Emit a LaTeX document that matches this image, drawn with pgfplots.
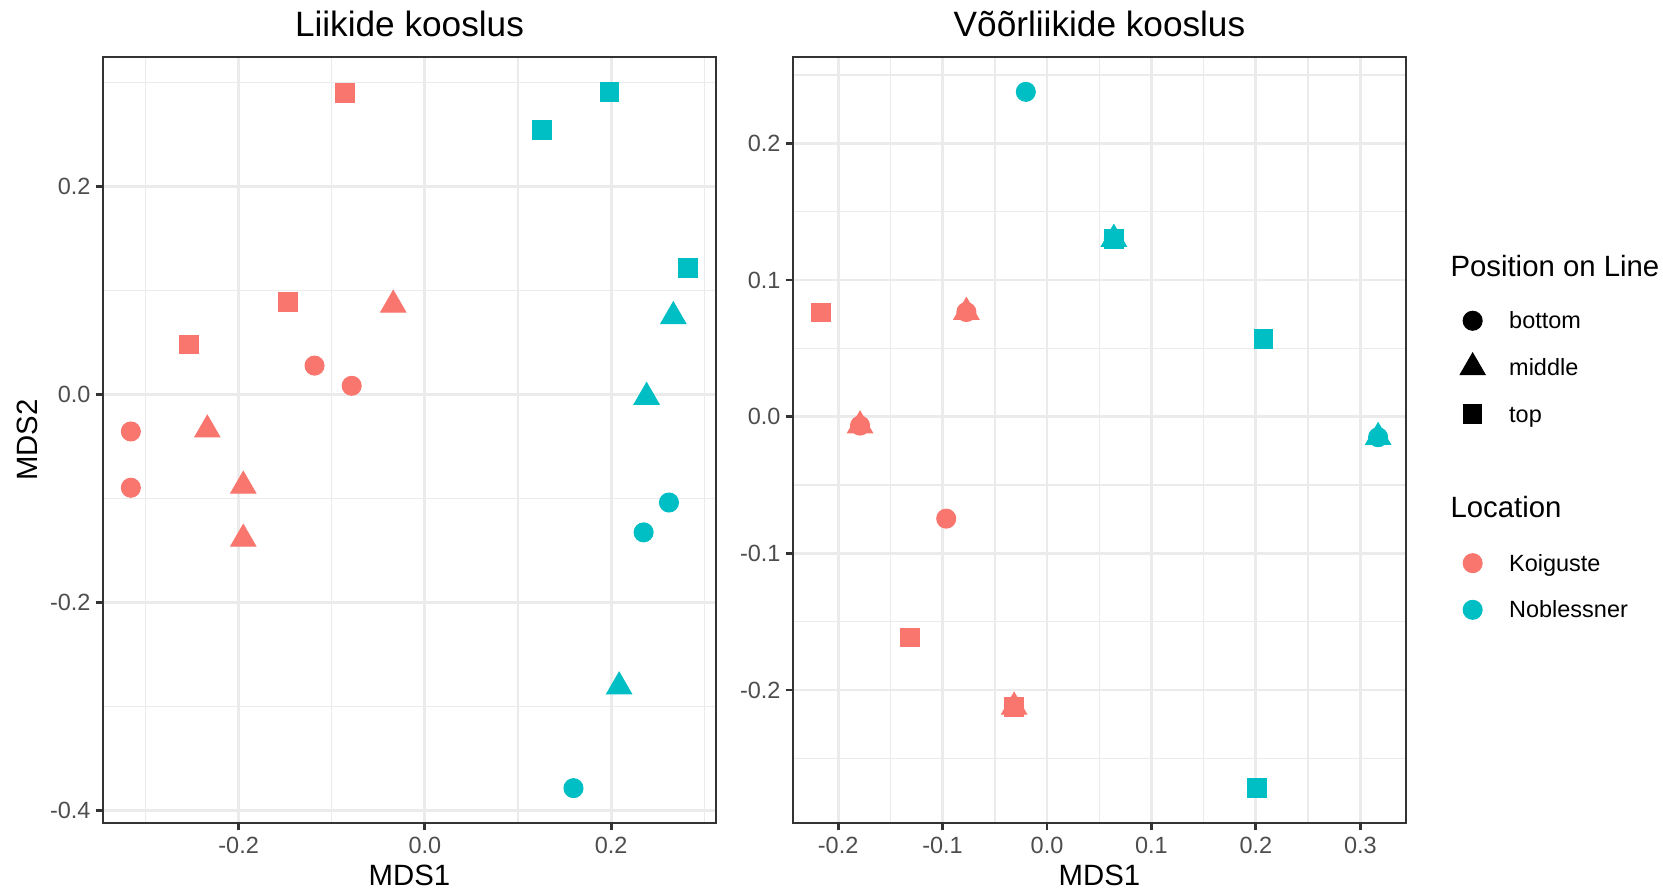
\documentclass[border=0pt]{standalone}
\usepackage{fontspec}
\setmainfont{Liberation Sans}
\usepackage{pgfplots}
\pgfplotsset{compat=1.18}
\definecolor{kred}{HTML}{F8766D}
\definecolor{ncyan}{HTML}{00BFC4}
\definecolor{grey20}{HTML}{333333}
\definecolor{grey30}{HTML}{4D4D4D}
\definecolor{grey92}{HTML}{EBEBEB}
\pgfplotsset{
  ggpanel/.style={
    scale only axis, width=229.875pt, height=287.25pt, anchor=south west,
    axis line style={draw=grey20, line width=1.07pt},
    grid=both,
    major grid style={draw=grey92, line width=1.07pt},
    minor grid style={draw=grey92, line width=0.53pt},
    tick align=outside, major tick length=2.75pt, minor tick length=0pt,
    major tick style={draw=grey20, line width=1.07pt},
    minor tick style={draw=none},
    xtick pos=bottom, ytick pos=left,
    ticklabel style={font=\fontsize{8.8}{10}\selectfont, text=grey30, inner sep=0pt},
    xticklabel style={anchor=north, yshift=-2.4pt},
    yticklabel style={anchor=east, xshift=-1.75pt},
  },
  pb/.style={only marks, mark=*, mark size=3.56pt, color=#1, mark options={draw=none}},
  pm/.style={only marks, mark=triangle*, mark size=5.4pt, color=#1, mark options={draw=none}},
  pt/.style={only marks, mark=square*, mark size=3.47pt, color=#1, mark options={draw=none}},
  legax/.style={at={(0pt,0pt)}, anchor=south west, hide axis, scale only axis,
    width=623.625pt, height=334.125pt, xmin=0, xmax=1, ymin=0, ymax=1,
    legend image code/.code={\begin{scope}[overlay]\draw[##1] plot coordinates {(7pt,0pt)};\end{scope}\path[draw=none, fill=none] (0pt,-6pt) rectangle (14pt,6pt);},
    legend style={anchor=north west, draw=none, fill=none, inner sep=0pt, outer sep=0pt,
      column sep=4.7pt, font=\fontsize{8.8}{10}\selectfont,
      cells={anchor=west, inner sep=0pt, text height=7.6pt, text depth=1pt}}},
}
\begin{document}
\begin{tikzpicture}
\useasboundingbox (0pt,0pt) rectangle (623.625pt,334.125pt);
% Left panel
\begin{axis}[ggpanel, at={(38.625pt,25.5pt)},
  xmin=-0.3456, xmax=0.3125, ymin=-0.4121, ymax=0.3243,
  xtick={-0.2,0,0.2}, xticklabels={-0.2,0.0,0.2},
  minor xtick={-0.3,-0.1,0.1,0.3},
  ytick={-0.4,-0.2,0,0.2}, yticklabels={-0.4,-0.2,0.0,0.2},
  minor ytick={-0.3,-0.1,0.1,0.3}]
\addplot[pb=kred] coordinates {(-0.1185,0.0276) (-0.0786,0.0082) (-0.3157,-0.0357) (-0.3157,-0.0898)};
\addplot[pm=kred] coordinates {(-0.034,0.086) (-0.2336,-0.034) (-0.195,-0.088) (-0.195,-0.139)};
\addplot[pt=kred] coordinates {(-0.0855,0.2898) (-0.147,0.0888) (-0.253,0.048)};
\addplot[pb=ncyan] coordinates {(0.262,-0.104) (0.2348,-0.1327) (0.1595,-0.3786)};
\addplot[pm=ncyan] coordinates {(0.2667,0.075) (0.238,-0.0026) (0.2085,-0.281)};
\addplot[pt=ncyan] coordinates {(0.1983,0.2908) (0.1254,0.254) (0.2826,0.1214)};
\end{axis}
% Right panel
\begin{axis}[ggpanel, at={(297.375pt,25.5pt)},
  xmin=-0.2432, xmax=0.3437, ymin=-0.2973, ymax=0.2632,
  xtick={-0.2,-0.1,0,0.1,0.2,0.3}, xticklabels={-0.2,-0.1,0.0,0.1,0.2,0.3},
  minor xtick={-0.15,-0.05,0.05,0.15,0.25},
  ytick={-0.2,-0.1,0,0.1,0.2}, yticklabels={-0.2,-0.1,0.0,0.1,0.2},
  minor ytick={-0.25,-0.15,-0.05,0.05,0.15,0.25}]
\addplot[pb=kred] coordinates {(-0.179,-0.0065) (-0.0772,0.0766) (-0.0965,-0.0746) (-0.0315,-0.2123)};
\addplot[pm=kred] coordinates {(-0.179,-0.0065) (-0.0772,0.0766) (-0.0315,-0.2123)};
\addplot[pt=kred] coordinates {(-0.2165,0.0761) (-0.1311,-0.1616) (-0.0315,-0.2123)};
\addplot[pb=ncyan] coordinates {(-0.0203,0.2377) (0.064,0.130) (0.317,-0.015)};
\addplot[pm=ncyan] coordinates {(0.064,0.130) (0.317,-0.015)};
\addplot[pt=ncyan] coordinates {(0.2073,0.0567) (0.2012,-0.2718) (0.064,0.130)};
\end{axis}
% Legends
\begin{axis}[legax, legend style={at={(0.87432,0.65960)}, row sep=4.4pt}]
\addlegendimage{mark=*, mark size=3.56pt, black, mark options={draw=none}}
\addlegendentry{bottom}
\addlegendimage{mark=triangle*, mark size=5.4pt, black, mark options={draw=none}}
\addlegendentry{middle}
\addlegendimage{mark=square*, mark size=3.47pt, black, mark options={draw=none}}
\addlegendentry{top}
\end{axis}
\begin{axis}[legax, legend style={at={(0.87432,0.38754)}, row sep=4.4pt}]
\addlegendimage{mark=*, mark size=3.56pt, kred, mark options={draw=none}}
\addlegendentry{Koiguste}
\addlegendimage{mark=*, mark size=3.56pt, ncyan, mark options={draw=none}}
\addlegendentry{Noblessner}
\end{axis}
% Titles and labels
\node[anchor=base, inner sep=0pt, font=\fontsize{13.2}{15}\selectfont] at (153.56pt,320.4pt) {Liikide kooslus};
\node[anchor=base, inner sep=0pt, font=\fontsize{13.2}{15}\selectfont] at (412.31pt,320.4pt) {Võõrliikide kooslus};
\node[anchor=base, inner sep=0pt, font=\fontsize{11}{13}\selectfont] at (153.56pt,2.1pt) {MDS1};
\node[anchor=base, inner sep=0pt, font=\fontsize{11}{13}\selectfont] at (412.31pt,2.1pt) {MDS1};
\node[rotate=90, anchor=base, inner sep=0pt, font=\fontsize{11}{13}\selectfont] at (14.06pt,169.1pt) {MDS2};
\node[anchor=base west, inner sep=0pt, font=\fontsize{11}{13}\selectfont] at (543.75pt,230.4pt) {Position on Line};
\node[anchor=base west, inner sep=0pt, font=\fontsize{11}{13}\selectfont] at (543.75pt,139.9pt) {Location};
\end{tikzpicture}
\end{document}
